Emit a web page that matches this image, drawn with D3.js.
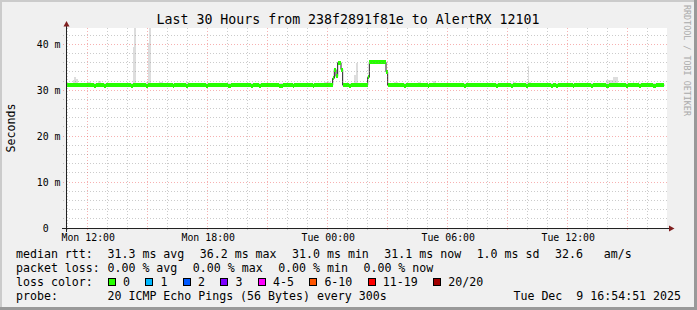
<!DOCTYPE html>
<html>
<head>
<meta charset="utf-8">
<script src="https://cdn.jsdelivr.net/npm/d3@7"></script>
<style>
html, body { margin: 0; padding: 0; background: #f0f0f0; }
svg { display: block; }
text { font-family: "DejaVu Sans Mono", monospace; fill: #000; }
</style>
</head>
<body>
<div id="chart"></div>
<script>
var title = "Last 30 Hours from 238f2891f81e to AlertRX 12101";
var startTime = new Date(2025, 11, 8, 10, 54, 51);
var endTime = new Date(2025, 11, 9, 16, 54, 51);
var stepSeconds = 300;
var yMax = 43.55; // ms
var yMinorTicks = [2, 4, 6, 8, 12, 14, 16, 18, 22, 24, 26, 28, 32, 34, 36, 38, 42];
var yMajorTicks = [10, 20, 30, 40];
var yLabelTicks = [0, 10, 20, 30, 40];

// median rtt per 5 minute step (ms), 20 steps per row
var median = [
  31.1,31.1,31.1,31.1,31.1,31.2,31.1,31.1,31.1,31.1, 31.1,31.1,31.1,31.1,31.1,31.1,31.1,31.0,31.1,31.1,
  31.1,31.1,31.1,31.0,31.1,31.1,31.1,31.1,31.1,31.1, 31.1,31.1,31.1,31.1,31.1,31.1,31.1,31.1,31.1,31.0,
  31.1,31.1,31.1,31.1,31.1,31.1,31.2,31.2,31.0,31.1, 31.1,31.1,31.1,31.1,31.1,31.1,31.1,31.1,31.1,31.1,
  31.1,31.1,31.1,31.1,31.0,31.1,31.1,31.1,31.1,31.1, 31.1,31.1,31.0,31.1,31.1,31.1,31.1,31.1,31.1,31.1,
  31.1,31.1,31.1,31.1,31.0,31.1,31.1,31.1,31.1,31.1, 31.1,31.1,31.1,31.1,31.1,31.1,31.1,31.0,31.0,31.1,
  31.1,31.1,31.1,31.1,31.1,31.1,31.1,31.1,31.1,31.1, 31.1,31.0,31.1,31.1,31.1,31.1,31.0,31.1,31.1,31.1,
  31.1,31.1,31.1,31.1,31.1,31.1,31.1,31.1,31.0,31.0, 31.1,31.1,31.1,31.1,31.1,31.1,31.0,31.1,31.1,31.1,
  31.1,31.1,31.1,31.1,31.1,31.1,31.1,31.1,31.0,31.1, 31.1,31.1,31.1,31.1,31.1,31.1,31.1,31.2,31.1,31.1,
  32.6,34.5,33.0,36.0,36.0,34.5,31.1,31.1,31.1,31.1, 31.0,31.1,31.1,31.1,31.1,31.1,31.1,31.1,31.1,31.1,
  31.1,32.8,36.1,36.1,36.1,36.1,36.2,36.1,36.1,36.1, 36.1,36.1,34.0,31.1,31.1,31.1,31.1,31.1,31.1,31.1,
  31.2,31.1,31.1,31.0,31.1,31.1,31.1,31.1,31.1,31.1, 31.1,31.1,31.1,31.1,31.1,31.1,31.1,31.0,31.1,31.1,
  31.1,31.1,31.1,31.1,31.1,31.1,31.1,31.1,31.1,31.1, 31.1,31.1,31.1,31.1,31.1,31.1,31.1,31.1,31.1,31.0,
  31.1,31.1,31.1,31.1,31.1,31.1,31.1,31.1,31.1,31.1, 31.1,31.1,31.1,31.1,31.1,31.1,31.1,31.1,31.0,31.1,
  31.1,31.1,31.1,31.1,31.1,31.1,31.1,31.0,31.1,31.1, 31.1,31.1,31.1,31.1,31.1,31.1,31.0,31.1,31.1,31.1,
  31.1,31.2,31.1,31.1,31.1,31.1,31.1,31.1,31.1,31.1, 31.1,31.0,31.1,31.1,31.0,31.1,31.1,31.1,31.1,31.1,
  31.1,31.1,31.1,31.1,31.0,31.1,31.1,31.1,31.1,31.1, 31.1,31.1,31.1,31.1,31.1,31.0,31.1,31.1,31.1,31.1,
  31.1,31.1,31.1,31.1,31.0,31.0,31.1,31.1,31.1,31.1, 31.1,31.1,31.1,31.1,31.1,31.1,31.0,31.1,31.1,31.1,
  31.1,31.1,31.1,31.1,31.0,31.1,31.1,31.1,31.1,31.1, 31.1,31.1,31.0,31.0,31.1,31.1,31.1,31.1,31.1,null
];

// highest ping of each step (top of the smoke), ms
var smokeMax = [
  31.5,31.5,31.5,31.5,32.2,32.9,32.5,31.5,31.5,31.5, 31.5,31.5,31.5,31.9,31.9,31.5,31.5,31.5,31.5,32.0,
  32.0,31.5,31.5,31.5,31.5,31.5,31.5,31.5,31.5,31.5, 31.5,31.5,31.5,31.5,31.5,31.5,31.5,31.5,31.5,31.5,
  39.5,45.0,31.5,31.5,31.5,31.5,31.6,31.6,31.9,40.2, 45.0,31.5,31.5,31.5,31.5,31.5,31.8,31.8,31.5,31.5,
  31.5,31.5,31.5,31.5,31.5,31.5,31.5,31.5,31.5,31.5, 31.5,31.5,31.8,31.8,31.5,31.5,31.5,31.5,31.5,31.5,
  31.5,31.5,31.5,31.5,31.5,31.5,31.5,31.5,31.5,31.5, 31.5,31.5,31.5,31.5,31.5,31.5,31.5,31.5,31.5,31.5,
  31.5,31.5,31.5,31.5,31.5,31.5,31.5,31.5,31.5,31.5, 31.5,31.5,31.5,31.5,31.5,31.5,31.5,31.5,31.5,31.5,
  31.5,31.5,31.5,31.5,31.5,31.5,31.5,31.5,31.5,31.5, 31.5,31.5,31.5,31.5,31.5,31.5,31.5,31.5,31.5,31.5,
  31.5,31.5,31.5,31.5,31.5,31.5,31.5,31.5,31.5,31.5, 31.5,31.5,31.5,31.5,31.5,31.8,31.8,32.0,31.8,31.5,
  33.0,34.9,33.4,36.4,36.4,34.9,31.5,31.5,31.5,31.5, 31.5,31.5,31.5,33.3,35.9,31.5,31.5,31.5,31.5,31.5,
  31.5,33.2,36.4,36.4,36.4,36.4,36.5,36.4,36.4,36.4, 36.4,36.4,34.4,31.5,31.5,31.5,31.5,31.9,31.9,31.5,
  31.6,31.5,31.5,31.5,31.5,31.5,31.5,31.5,31.5,31.5, 31.5,31.9,31.9,31.5,31.5,31.5,31.5,31.5,31.5,31.5,
  32.0,32.0,31.5,31.5,31.5,31.5,31.5,31.5,31.5,31.5, 31.5,31.5,31.5,31.5,31.5,31.5,31.5,31.5,31.5,31.5,
  31.5,31.5,31.5,31.5,31.5,31.5,31.5,31.5,31.5,31.5, 31.5,31.5,31.5,31.5,31.5,31.5,31.5,31.5,31.5,31.5,
  31.5,31.5,31.5,31.5,31.5,31.5,31.5,31.5,31.8,31.8, 31.5,31.5,31.5,31.5,31.5,31.5,31.8,35.2,31.9,31.5,
  31.5,31.6,31.5,31.5,31.5,31.5,31.5,31.5,31.5,31.5, 31.5,31.5,31.5,31.5,31.5,31.5,31.5,31.5,31.5,31.5,
  31.5,31.5,31.5,31.5,31.5,31.5,31.5,31.5,31.5,31.5, 31.5,31.5,31.5,31.5,31.5,31.5,31.5,31.5,31.5,31.5,
  31.5,31.5,31.5,31.5,32.2,32.2,32.2,32.2,32.8,32.8, 32.8,31.5,31.5,31.5,31.5,31.5,31.5,31.5,31.5,31.5,
  31.8,31.5,31.5,31.8,31.5,31.5,31.5,31.5,31.5,31.5, 31.5,31.5,31.5,31.5,31.5,31.5,31.5,31.5,31.5,null
];

var rttLegend = ["31.3 ms avg", "36.2 ms max", "31.0 ms min", "31.1 ms now", "1.0 ms sd", "32.6   am/s"];
var lossLegend = ["0.00 % avg", "0.00 % max", "0.00 % min", "0.00 % now"];
var lossLabels = ["0", "1", "2", "3", "4-5", "6-10", "11-19", "20/20"];
var lossColors = ["#26ff00", "#00b8ff", "#0059ff", "#7e00ff", "#ff00ff", "#ff5500", "#ff0000", "#a10000"];
var probeText = "20 ICMP Echo Pings (56 Bytes) every 300s";
var stampText = "Tue Dec  9 16:54:51 2025";
var watermark = "RRDTOOL / TOBI OETIKER";

var W = 697, H = 310;
var plot = {l: 66, t: 28, w: 600, h: 200};

var svg = d3.select("#chart").append("svg")
  .attr("width", W).attr("height", H);

// background and 3d shade border
svg.append("rect").attr("width", W).attr("height", H).attr("fill", "#f0f0f0");
svg.append("rect").attr("x", 0).attr("y", 0).attr("width", W).attr("height", 2).attr("fill", "#cbcbcb");
svg.append("rect").attr("x", 0).attr("y", 0).attr("width", 2).attr("height", H).attr("fill", "#cbcbcb");
svg.append("rect").attr("x", 0).attr("y", H - 3).attr("width", W).attr("height", 3).attr("fill", "#999999");
svg.append("rect").attr("x", W - 3).attr("y", 0).attr("width", 3).attr("height", H).attr("fill", "#999999");

var x = d3.scaleTime().domain([startTime, endTime]).range([plot.l, plot.l + plot.w]);
var y = d3.scaleLinear().domain([0, yMax]).range([plot.t + plot.h, plot.t]);

// canvas
svg.append("rect").attr("x", plot.l).attr("y", plot.t)
  .attr("width", plot.w + 1).attr("height", plot.h).attr("fill", "#ffffff");

svg.append("clipPath").attr("id", "canvas-clip").append("rect")
  .attr("x", plot.l).attr("y", plot.t).attr("width", plot.w + 1).attr("height", plot.h);

var steps = median.map(function(v, i) {
  return {
    t0: new Date(startTime.getTime() + i * stepSeconds * 1000),
    t1: new Date(startTime.getTime() + (i + 1) * stepSeconds * 1000),
    med: v,
    max: smokeMax[i]
  };
}).filter(function(d) { return d.med != null; });

var dataG = svg.append("g").attr("clip-path", "url(#canvas-clip)");

// smoke
dataG.selectAll(".smoke").data(steps).enter().append("rect")
  .attr("class", "smoke")
  .attr("x", function(d) { return x(d.t0); })
  .attr("width", function(d) { return x(d.t1) - x(d.t0); })
  .attr("y", function(d) { return y(d.max); })
  .attr("height", function(d) { return Math.max(0, y(d.med) - y(d.max)); })
  .attr("fill", "#dddddd")
  .attr("shape-rendering", "crispEdges");

// median line (step)
var linePts = steps.map(function(d) { return [x(d.t0), y(d.med)]; });
var last = steps[steps.length - 1];
linePts.push([x(last.t1), y(last.med)]);
dataG.append("path")
  .attr("d", d3.line().curve(d3.curveStepAfter)(linePts))
  .attr("fill", "none")
  .attr("stroke", "#202020")
  .attr("stroke-width", 1);

// loss coloured median band
dataG.selectAll(".band").data(steps).enter().append("rect")
  .attr("class", "band")
  .attr("x", function(d) { return x(d.t0); })
  .attr("width", function(d) { return x(d.t1) - x(d.t0); })
  .attr("y", function(d) { return y(d.med) - 2; })
  .attr("height", 4)
  .attr("fill", lossColors[0])
  .attr("shape-rendering", "crispEdges");

// grid (drawn on top, translucent like rrdtool)
var gridG = svg.append("g").attr("shape-rendering", "crispEdges");
var hours = x.ticks(d3.timeHour.every(1));
function px(v) { return Math.floor(v) + 0.5; }

gridG.selectAll(".vmin").data(hours.filter(function(d) { return d.getHours() % 3 !== 0; }))
  .enter().append("line")
  .attr("x1", function(d) { return px(x(d)); }).attr("x2", function(d) { return px(x(d)); })
  .attr("y1", plot.t).attr("y2", plot.t + plot.h + 3)
  .attr("stroke", "rgba(140,140,140,0.45)").attr("stroke-dasharray", "1,2");
gridG.selectAll(".hmin").data(yMinorTicks).enter().append("line")
  .attr("x1", plot.l - 3).attr("x2", plot.l + plot.w + 3)
  .attr("y1", function(d) { return px(y(d)); }).attr("y2", function(d) { return px(y(d)); })
  .attr("stroke", "rgba(140,140,140,0.45)").attr("stroke-dasharray", "1,2");
gridG.selectAll(".vmaj").data(hours.filter(function(d) { return d.getHours() % 3 === 0; }))
  .enter().append("line")
  .attr("x1", function(d) { return px(x(d)); }).attr("x2", function(d) { return px(x(d)); })
  .attr("y1", plot.t).attr("y2", plot.t + plot.h + 3)
  .attr("stroke", "rgba(235,60,60,0.4)").attr("stroke-dasharray", "1,2");
gridG.selectAll(".hmaj").data(yMajorTicks).enter().append("line")
  .attr("x1", plot.l - 3).attr("x2", plot.l + plot.w + 3)
  .attr("y1", function(d) { return px(y(d)); }).attr("y2", function(d) { return px(y(d)); })
  .attr("stroke", "rgba(235,60,60,0.4)").attr("stroke-dasharray", "1,2");

// axes lines and arrows
var axisY = px(y(0));
svg.append("line").attr("x1", plot.l - 4).attr("x2", plot.l + plot.w + 4)
  .attr("y1", axisY).attr("y2", axisY).attr("stroke", "#222").attr("shape-rendering", "crispEdges");
svg.append("line").attr("x1", plot.l + 0.5).attr("x2", plot.l + 0.5)
  .attr("y1", plot.t + plot.h + 4).attr("y2", plot.t - 3).attr("stroke", "#222").attr("shape-rendering", "crispEdges");
svg.append("path")
  .attr("d", "M" + (plot.l - 2.5) + "," + (plot.t - 1.5) + "L" + (plot.l + 3.5) + "," + (plot.t - 1.5) + "L" + (plot.l + 0.5) + "," + (plot.t - 7) + "Z")
  .attr("fill", "#7f1f1f");
svg.append("path")
  .attr("d", "M" + (plot.l + plot.w + 3) + "," + (axisY - 3) + "L" + (plot.l + plot.w + 3) + "," + (axisY + 3) + "L" + (plot.l + plot.w + 8.5) + "," + axisY + "Z")
  .attr("fill", "#7f1f1f");

// axis labels
var axisFont = 9.9, adv = axisFont * 0.602;
var xAxisG = svg.append("g").attr("transform", "translate(0," + axisY + ")")
  .call(d3.axisBottom(x).ticks(d3.timeHour.every(6)).tickFormat(d3.timeFormat("%a %H:%M")).tickSize(0));
xAxisG.select(".domain").remove();
xAxisG.attr("font-family", null).attr("font-size", null);
xAxisG.selectAll("text").attr("y", 12.5).attr("dy", null)
  .style("font-size", axisFont + "px");

var yAxisG = svg.append("g").attr("transform", "translate(60.5,0)")
  .call(d3.axisLeft(y).tickValues(yLabelTicks)
    .tickFormat(function(d) { return d === 0 ? "0" : d + " m"; })
    .tickSize(0).tickPadding(0));
yAxisG.select(".domain").remove();
yAxisG.attr("font-family", null).attr("font-size", null);
yAxisG.selectAll("text").style("font-size", axisFont + "px")
  .attr("x", function(d) { return d === 0 ? -2 * adv : 0; });

// title, y label, watermark
svg.append("text").attr("x", 348).attr("y", 24).attr("text-anchor", "middle")
  .style("font-size", "13.25px").text(title);
svg.append("text").attr("transform", "translate(15,128) rotate(-90)")
  .attr("text-anchor", "middle").style("font-size", "11.6px").text("Seconds");
svg.append("text").attr("transform", "translate(684.3,5) rotate(90)")
  .style("font-size", "8.4px").style("fill", "#aaaaaa").text(watermark);

// legend
var legFont = "11.6px", legGap = 15.5, colX = 107.5;
function legendText(g, xx, yy, s) {
  return g.append("text").attr("x", xx).attr("y", yy)
    .attr("xml:space", "preserve").style("white-space", "pre")
    .style("font-size", legFont).text(s);
}
function legendRow(yy, label, items) {
  var g = svg.append("g");
  legendText(g, 16, yy, label);
  var xx = colX;
  items.forEach(function(s) {
    var t = legendText(g, xx, yy, s);
    xx += t.node().getComputedTextLength() + legGap;
  });
  return g;
}
legendRow(258, "median rtt:", rttLegend);
legendRow(272, "packet loss:", lossLegend);

var lossG = svg.append("g");
legendText(lossG, 16, 286, "loss color:");
var lx = 108;
lossLabels.forEach(function(s, i) {
  lossG.append("rect").attr("x", lx + 0.5).attr("y", 278.5).attr("width", 7).attr("height", 7)
    .attr("fill", lossColors[i]).attr("stroke", "#000").attr("shape-rendering", "crispEdges");
  var t = legendText(lossG, lx + 15, 286, s);
  lx += 15 + t.node().getComputedTextLength() + legGap;
});

var probeG = legendRow(300, "probe:", [probeText]);
legendText(probeG, 681, 300, stampText).attr("text-anchor", "end");
</script>
</body>
</html>
